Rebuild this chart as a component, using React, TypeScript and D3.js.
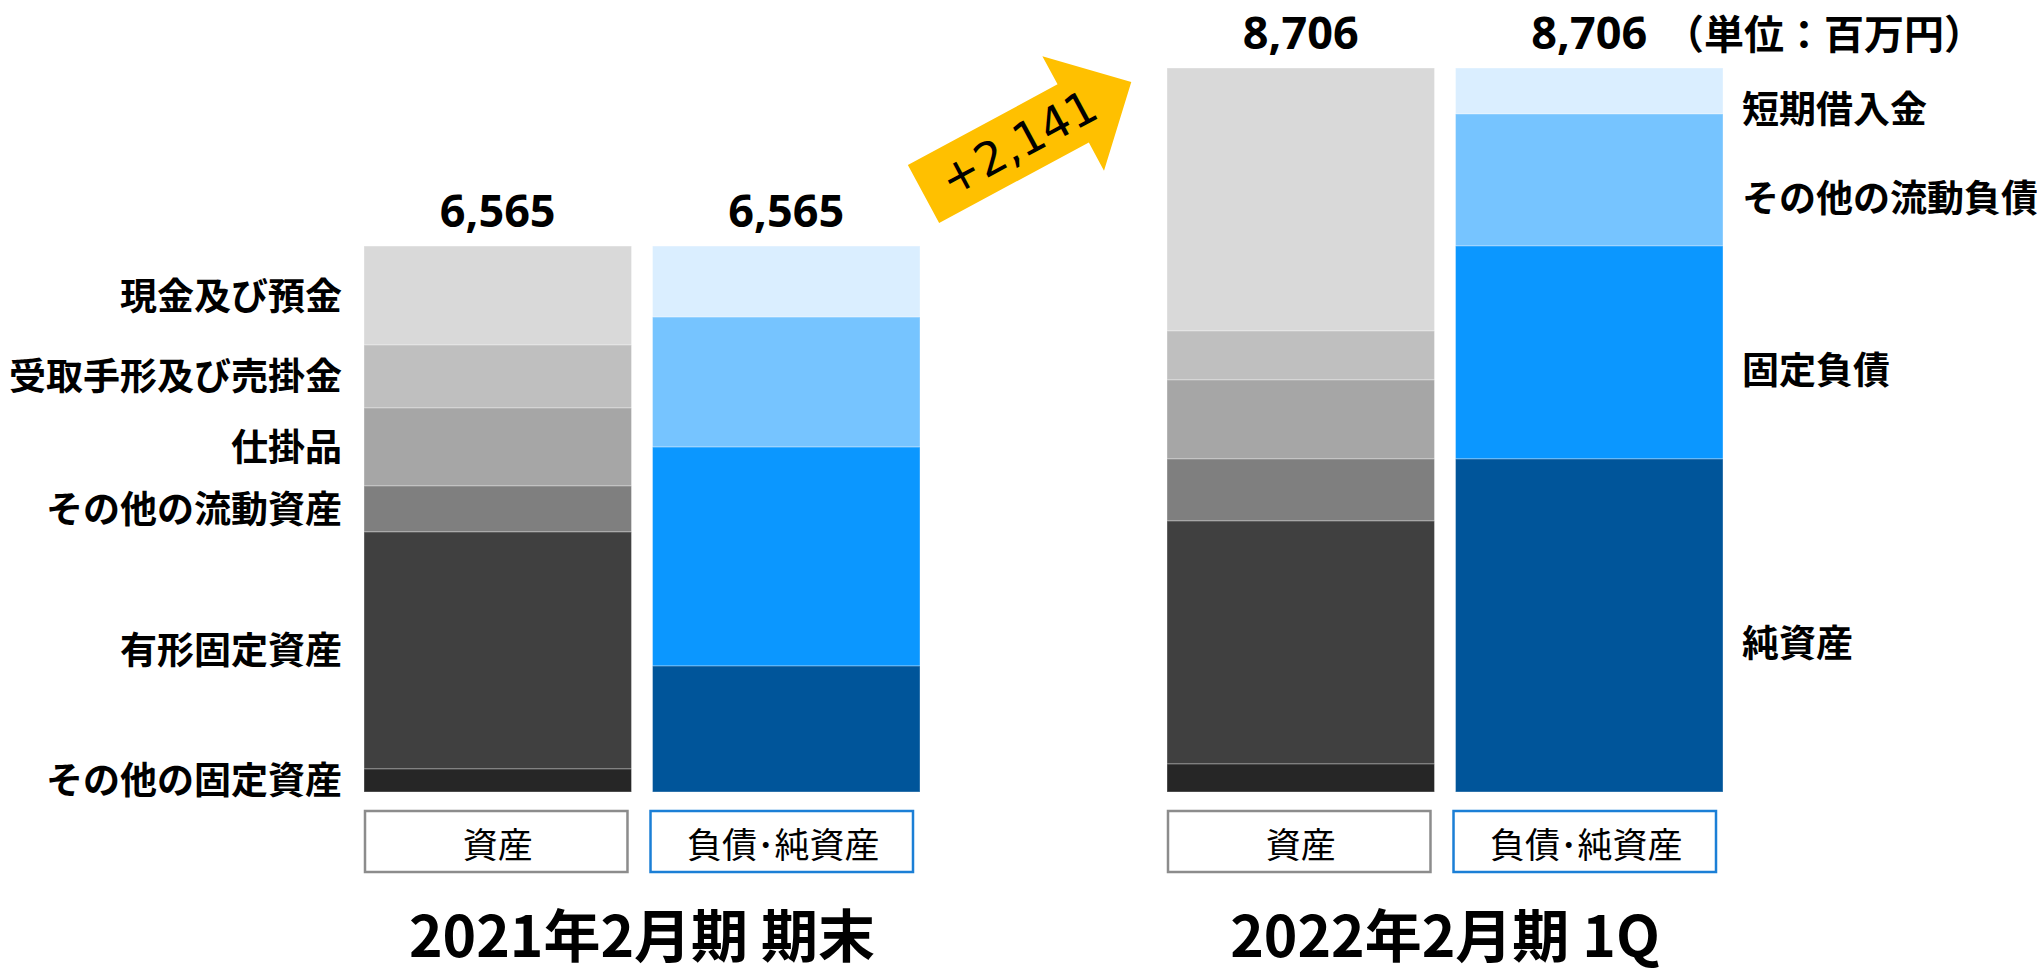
import { useEffect, useRef } from 'react';
import * as d3 from 'd3';

// 単位：百万円
const periods = ['2021年2月期 期末', '2022年2月期 1Q'];
const sides = ['資産', '負債･純資産'];

const assetNames = ['現金及び預金', '受取手形及び売掛金', '仕掛品', 'その他の流動資産', '有形固定資産', 'その他の固定資産'];
const assets2021 = [1190, 757, 938, 553, 2850, 277];
const assets2022 = [3162, 589, 950, 746, 2922, 337];

const liabNames = ['短期借入金', 'その他の流動負債', '固定負債', '純資産'];
const liab2021 = [854, 1563, 2633, 1515];
const liab2022 = [553, 1587, 2561, 4005];

const assetColors = ['#d9d9d9', '#bfbfbf', '#a6a6a6', '#7f7f7f', '#404040', '#262626'];
const liabColors = ['#daeeff', '#76c4ff', '#0b97ff', '#00559a'];

const increaseLabel = '+2,141';
const unitLabel = '（単位：百万円）';

const width = 2037;
const height = 974;
const font = "'Noto Sans CJK JP', 'Noto Sans', sans-serif";
const numFont = "'Noto Sans', 'Noto Sans CJK JP', sans-serif";

const App = () => {
    const svgRef = useRef<SVGSVGElement>(null);

    useEffect(() => {
        const svg = d3.select(svgRef.current);
        svg.selectAll('*').remove();

        const y = d3.scaleLinear().domain([0, 8706]).range([792, 68]);

        const fx = d3.scaleBand().domain(periods).range([364, 1723]).paddingInner(0.3076).paddingOuter(0);
        const x0 = d3.scaleBand().domain(sides).range([0, fx.bandwidth()]).paddingInner(0.0729).paddingOuter(0);

        const stacks = [
            [assets2021, liab2021],
            [assets2022, liab2022]
        ];

        periods.forEach((p, pi) => {
            const g = svg.append('g').attr('transform', `translate(${fx(p)},0)`);

            sides.forEach((s, si) => {
                const values = stacks[pi][si];
                const colors = si === 0 ? assetColors : liabColors;
                const names = si === 0 ? assetNames : liabNames;
                const total = d3.sum(values);
                const bx = x0(s) ?? 0;
                const bw = x0.bandwidth();

                // stack from top: first item sits on top
                let acc = total;
                const segs = values.map((v, i) => {
                    const top = acc;
                    acc -= v;
                    return { name: names[i], top, bottom: acc, color: colors[i] };
                });

                g.selectAll(null)
                    .data(segs)
                    .join('rect')
                    .attr('x', bx)
                    .attr('y', d => y(d.top))
                    .attr('width', bw)
                    .attr('height', d => y(d.bottom) - y(d.top))
                    .attr('fill', d => d.color)
                    .attr('stroke', 'rgba(255,255,255,0.35)')
                    .attr('stroke-width', 1);

                // total on top
                g.append('text')
                    .attr('x', bx + bw / 2)
                    .attr('y', y(total) - 19)
                    .attr('text-anchor', 'middle')
                    .style('font-family', numFont)
                    .style('font-weight', 'bold')
                    .style('font-size', '45px')
                    .text(d3.format(',')(total));

                // category labels: assets on the left of the first pair, liabilities on the right of the second
                if (si === 0 && pi === 0) {
                    g.selectAll(null)
                        .data(segs)
                        .join('text')
                        .attr('x', bx - 22)
                        .attr('y', d => (y(d.top) + y(d.bottom)) / 2 - 2)
                        .attr('text-anchor', 'end')
                        .attr('dominant-baseline', 'central')
                        .style('font-family', font)
                        .style('font-weight', 'bold')
                        .style('font-size', '37px')
                        .text(d => d.name);
                }
                if (si === 1 && pi === 1) {
                    g.selectAll(null)
                        .data(segs)
                        .join('text')
                        .attr('x', bx + bw + 19)
                        .attr('y', d => (y(d.top) + y(d.bottom)) / 2 + 16)
                        .attr('text-anchor', 'start')
                        .attr('dominant-baseline', 'central')
                        .style('font-family', font)
                        .style('font-weight', 'bold')
                        .style('font-size', '37px')
                        .text(d => d.name);
                }

                // category box under bar
                g.append('rect')
                    .attr('x', bx + (si === 0 ? 1 : -2))
                    .attr('y', 811)
                    .attr('width', bw - 5)
                    .attr('height', 61)
                    .attr('fill', '#fff')
                    .attr('stroke', si === 0 ? '#8c8c8c' : '#1b7fd6')
                    .attr('stroke-width', 2.5);

                g.append('text')
                    .attr('x', bx + bw / 2 - (si === 0 ? 0 : 3))
                    .attr('y', 842)
                    .attr('text-anchor', 'middle')
                    .attr('dominant-baseline', 'central')
                    .style('font-family', font)
                    .style('font-size', '35px')
                    .text(s);
            });

            // period title
            g.append('text')
                .attr('x', fx.bandwidth() / 2)
                .attr('y', 957)
                .attr('text-anchor', 'middle')
                .style('font-family', font)
                .style('font-weight', 'bold')
                .style('font-size', '57px')
                .text(p);
        });

        // unit label
        svg.append('text')
            .attr('x', 1984)
            .attr('y', y(8706) - 19)
            .attr('text-anchor', 'end')
            .style('font-family', font)
            .style('font-weight', 'bold')
            .style('font-size', '40px')
            .text(unitLabel);

        // increase arrow
        const arrow = svg.append('g').attr('transform', 'translate(923.5,194) rotate(-28.3)');
        const shaftHalf = 33;
        const shaftLen = 170;
        const headHalf = 65;
        const headLen = 66;
        arrow
            .append('path')
            .attr(
                'd',
                d3.line()([
                    [0, -shaftHalf],
                    [shaftLen, -shaftHalf],
                    [shaftLen, -headHalf],
                    [shaftLen + headLen, 0],
                    [shaftLen, headHalf],
                    [shaftLen, shaftHalf],
                    [0, shaftHalf]
                ]) + 'Z'
            )
            .attr('fill', '#ffc000');
        arrow
            .append('text')
            .attr('x', 108)
            .attr('y', 0)
            .attr('text-anchor', 'middle')
            .attr('dominant-baseline', 'central')
            .style('font-family', "'DejaVu Sans', sans-serif")
            .style('font-size', '46px')
            .text(increaseLabel);
    }, []);

    return (
        <div style={{ position: 'absolute', left: 0, top: 0 }}>
            <svg ref={svgRef} width={width} height={height} style={{ display: 'block', background: '#fff' }}></svg>
        </div>
    );
};

export default App;
